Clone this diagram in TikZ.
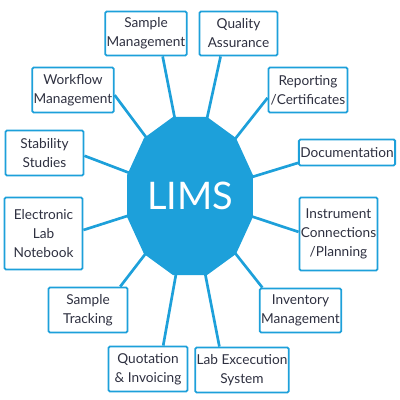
\documentclass[tikz,border=0pt]{standalone}
\usepackage{fontspec}
\setmainfont{Lato}
\usepackage{xcolor}
\usepackage{tikz}
\usetikzlibrary{calc, positioning}

\definecolor{limsblue}{HTML}{1DA0DA}
\definecolor{limstext}{HTML}{2E3040}

\begin{document}
\begin{tikzpicture}[x=0.025cm, y=0.025cm,
    module/.style={draw=limsblue, line width=1.3pt, rounded corners=1pt, fill=white,
        align=center, inner sep=1pt, text=limstext,
        font=\fontsize{9.7}{13.5}\selectfont},
    boxsize/.style 2 args={minimum width=#1*0.025cm, minimum height=#2*0.025cm},
    spoke/.style={draw=limsblue, line width=1.9pt}]

    % =================================================================
    % 1. KHUNG HÌNH VÀ TÂM
    % =================================================================
    \useasboundingbox (0,0) rectangle (400,400);
    \coordinate (hub) at (190,204);

    % =================================================================
    % 2. CÁC Ô CHỨC NĂNG
    % =================================================================
    \node[module, boxsize={79}{44}] (sm)  at (146,366.5) {Sample\\Management};
    \node[module, boxsize={78}{44}] (qa)  at (238.5,366.5) {Quality\\Assurance};
    \node[module, boxsize={79}{45}] (wm)  at (73,310) {Workflow\\Management};
    \node[module, boxsize={79}{45}] (rc)  at (308,310) {Reporting\\/Certificates};
    \node[module, boxsize={78}{45}] (ss)  at (44.5,247) {Stability\\Studies};
    \node[module, boxsize={93}{26}] (doc) at (347,247.5) {Documentation};
    \node[module, boxsize={78}{72}] (eln) at (43.5,166.5) {Electronic\\Lab\\Notebook};
    \node[module, boxsize={78}{73}] (icp) at (338.5,166) {Instrument\\Connections\\/Planning};
    \node[module, boxsize={79}{45}] (st)  at (88,90) {Sample\\Tracking};
    \node[module, boxsize={78}{44}] (inv) at (300.5,89.5) {Inventory\\Management};
    \node[module, boxsize={79}{45}] (qi)  at (148,31) {Quotation\\\& Invoicing};
    \node[module, boxsize={93}{45}] (les) at (242,30) {Lab Excecution\\System};

    % =================================================================
    % 3. CÁC ĐƯỜNG NỐI VỀ TÂM
    % =================================================================
    \draw[spoke] (sm.-54)  -- (hub);
    \draw[spoke] (qa.-128) -- (hub);
    \draw[spoke] (wm.-7)   -- (hub);
    \draw[spoke] (rc.191)  -- (hub);
    \draw[spoke] (ss.-4)   -- (hub);
    \draw[spoke] (doc.192) -- (hub);
    \draw[spoke] (eln.5)   -- (hub);
    \draw[spoke] (icp.177) -- (hub);
    \draw[spoke] (st.36)   -- (hub);
    \draw[spoke] (inv.149) -- (hub);
    \draw[spoke] (qi.57)   -- (hub);
    \draw[spoke] (les.134) -- (hub);

    % =================================================================
    % 4. HÌNH MƯỜI HAI CẠNH Ở GIỮA
    % =================================================================
    \fill[limsblue] ($(hub)+(15:65 and 82)$)
        \foreach \a in {45,75,...,345} { -- ($(hub)+(\a:65 and 82)$) } -- cycle;
    \node[text=white, font=\fontsize{27}{27}\selectfont] (lims) at (hub) {LIMS};

\end{tikzpicture}
\end{document}
